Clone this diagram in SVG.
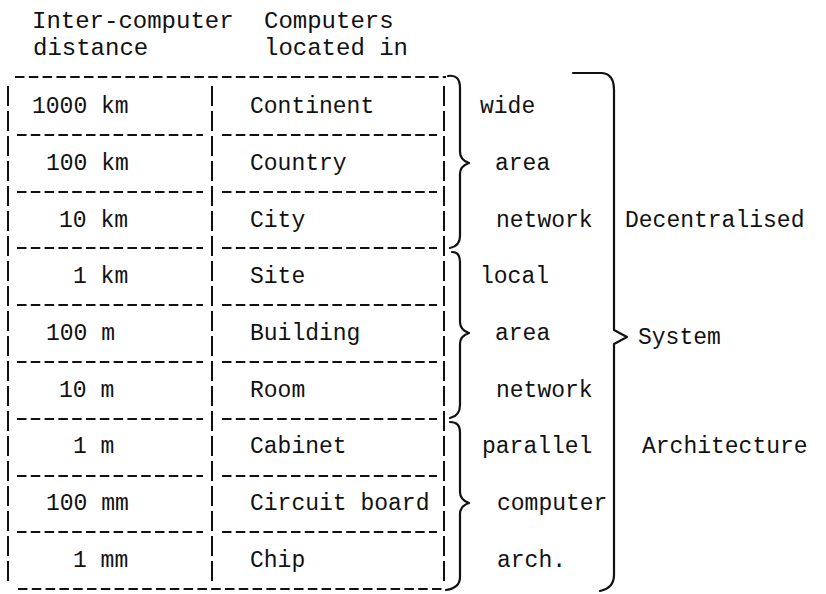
<svg xmlns="http://www.w3.org/2000/svg" width="826" height="594" viewBox="0 0 826 594">
<style>
text{font-family:"Liberation Mono","DejaVu Sans Mono",monospace;font-size:23px;fill:#111}
.hd{font-size:24px}
.h{stroke:#111;stroke-width:2;stroke-dasharray:9.5 4.3;fill:none}
.v{stroke:#111;stroke-width:2;stroke-dasharray:20 5;fill:none}
.b{stroke:#111;stroke-width:2.2;fill:none;stroke-linejoin:round;stroke-linecap:round}
</style>
<rect width="826" height="594" fill="#fff"/>
<g id="header">
<text class="hd" x="32" y="28">Inter-computer</text>
<text class="hd" x="33" y="55">distance</text>
<text class="hd" x="264" y="28">Computers</text>
<text class="hd" x="264" y="55">located in</text>
</g>
<g id="grid">
<line class="h" x1="15" y1="77" x2="446" y2="77"/>
<line class="h" x1="17" y1="135" x2="203" y2="135"/><line class="h" x1="222" y1="135" x2="437" y2="135"/>
<line class="h" x1="17" y1="192" x2="203" y2="192"/><line class="h" x1="222" y1="192" x2="437" y2="192"/>
<line class="h" x1="17" y1="248" x2="203" y2="248"/><line class="h" x1="222" y1="248" x2="437" y2="248"/>
<line class="h" x1="17" y1="305" x2="203" y2="305"/><line class="h" x1="222" y1="305" x2="437" y2="305"/>
<line class="h" x1="17" y1="362" x2="203" y2="362"/><line class="h" x1="222" y1="362" x2="437" y2="362"/>
<line class="h" x1="17" y1="419" x2="203" y2="419"/><line class="h" x1="222" y1="419" x2="437" y2="419"/>
<line class="h" x1="17" y1="476" x2="203" y2="476"/><line class="h" x1="222" y1="476" x2="437" y2="476"/>
<line class="h" x1="17" y1="532" x2="203" y2="532"/><line class="h" x1="222" y1="532" x2="437" y2="532"/>
<line class="h" x1="18" y1="589" x2="442" y2="589"/>
<line class="v" x1="8" y1="86" x2="8" y2="582"/>
<line class="v" x1="212" y1="86" x2="212" y2="582"/>
<line class="v" x1="444" y1="86" x2="444" y2="582"/>
</g>
<g id="rows">
<g id="r1"><text x="32" y="113">1000 km</text><text x="250" y="113">Continent</text></g>
<g id="r2"><text x="46" y="170">100 km</text><text x="250" y="170">Country</text></g>
<g id="r3"><text x="59" y="227">10 km</text><text x="250" y="227">City</text></g>
<g id="r4"><text x="73" y="283">1 km</text><text x="250" y="283">Site</text></g>
<g id="r5"><text x="46" y="340">100 m</text><text x="250" y="340">Building</text></g>
<g id="r6"><text x="59" y="397">10 m</text><text x="250" y="397">Room</text></g>
<g id="r7"><text x="73" y="453">1 m</text><text x="250" y="453">Cabinet</text></g>
<g id="r8"><text x="46" y="510">100 mm</text><text x="250" y="510">Circuit board</text></g>
<g id="r9"><text x="73" y="567">1 mm</text><text x="250" y="567">Chip</text></g>
</g>
<g id="braces">
<path class="b" d="M448,76 Q460,74 460,88 L460,152 Q460,160 469,163 Q460,166 460,174 L460,236 Q460,246 450,248"/>
<path class="b" d="M452,252 Q460,252 460,262 L460,322 Q460,330 469,333 Q460,336 460,344 L460,405 Q460,416 450,418"/>
<path class="b" d="M450,422 Q460,422 460,432 L460,492 Q460,500 469,503 Q460,506 460,514 L460,577 Q460,588 446,590"/>
<path class="b" d="M573,73 L602,73 Q614,74 614,90 L614,330 L627,337 L614,344 L614,575 Q614,588 600,591"/>
</g>
<g id="labels">
<text x="480" y="113">wide</text>
<text x="495" y="170">area</text>
<text x="496" y="227">network</text>
<text x="480" y="283">local</text>
<text x="495" y="340">area</text>
<text x="496" y="397">network</text>
<text x="482" y="453">parallel</text>
<text x="497" y="510">computer</text>
<text x="497" y="567">arch.</text>
<text x="625" y="227">Decentralised</text>
<text x="638" y="344">System</text>
<text x="642" y="453">Architecture</text>
</g>
</svg>
